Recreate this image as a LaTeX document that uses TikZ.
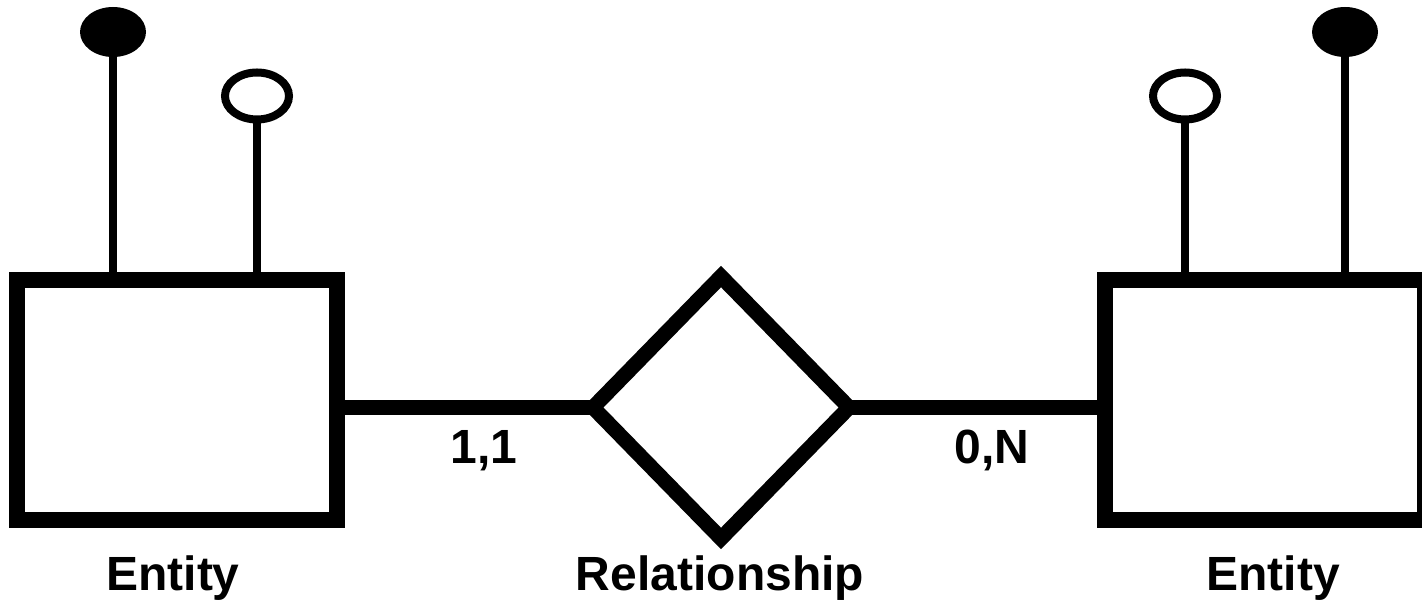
\documentclass[tikz,border=0pt]{standalone}
\usepackage{fontspec}
\setmainfont{Liberation Sans}
\usetikzlibrary{shapes.geometric}
\begin{document}
\begin{tikzpicture}[x=0.5pt, y=-0.5pt,
    entity/.style={rectangle, draw, line width=8pt, minimum width=160pt, minimum height=120pt, inner sep=0pt},
    relation/.style={diamond, draw, line width=7.5pt, minimum width=128pt, minimum height=131pt, inner sep=0pt, outer sep=0pt},
    keyattr/.style={ellipse, fill=black, minimum width=33pt, minimum height=25pt, inner sep=0pt},
    attrib/.style={ellipse, draw, line width=4pt, minimum width=32pt, minimum height=23.5pt, inner sep=0pt},
    caption/.style={font=\bfseries\fontsize{24}{29}\selectfont, anchor=base, inner sep=0pt}]
    \useasboundingbox (0,0) rectangle (1422,603);
    % Nodes
    \node [entity] (left) at (177,400) {};
    \node [relation] (rel) at (721,407.5) {};
    \node [entity] (right) at (1265,400) {};
    \node [keyattr] (lkey) at (113,32) {};
    \node [attrib] (lattr) at (257,96) {};
    \node [attrib] (rattr) at (1185,96) {};
    \node [keyattr] (rkey) at (1345,32) {};

    % Labels
    \node [caption] (lcard) at (484,463) {1,1};
    \node [caption] (rcard) at (992,463) {0,N};
    \node [caption] (lname) at (173,590) {Entity};
    \node [caption] (relname) at (720,590) {Relationship};
    \node [caption] (rname) at (1273,590) {Entity};

    % Path
    \draw [line width=7.5pt] (left.east |- rel.west) -- (rel.west);
    \draw [line width=7.5pt] (rel.east) -- (right.west |- rel.east);
    \draw [line width=4pt] (lkey.south) -- (lkey.south |- left.north);
    \draw [line width=4pt] (lattr.south) -- (lattr.south |- left.north);
    \draw [line width=4pt] (rattr.south) -- (rattr.south |- right.north);
    \draw [line width=4pt] (rkey.south) -- (rkey.south |- right.north);
\end{tikzpicture}
\end{document}
